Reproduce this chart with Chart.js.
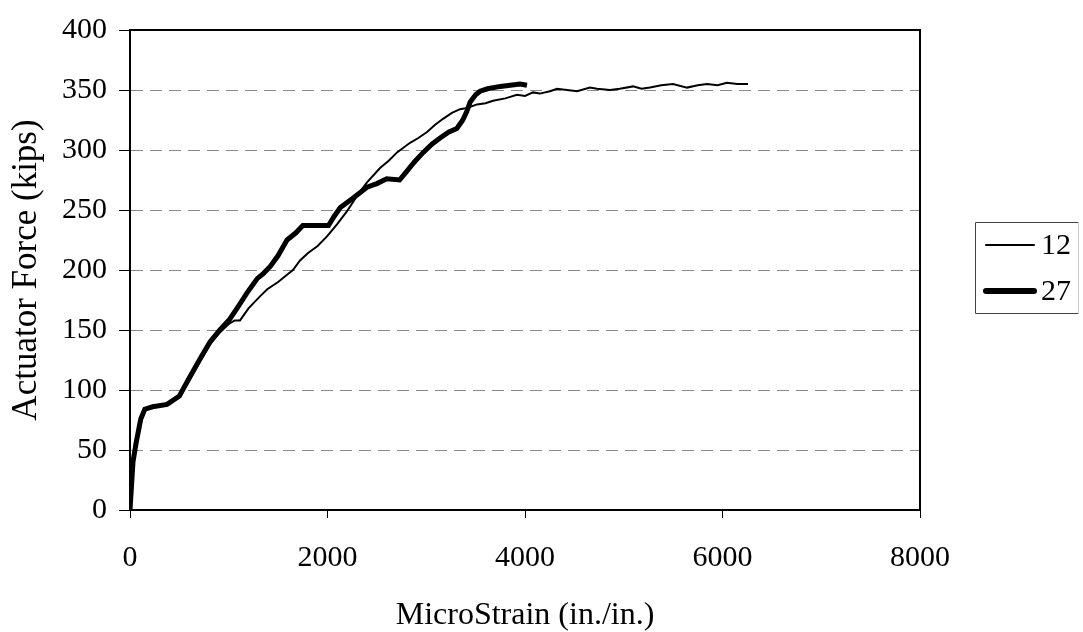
<!DOCTYPE html>
<html>
<head>
<meta charset="utf-8">
<script src="https://cdn.jsdelivr.net/npm/chart.js@4/dist/chart.umd.min.js"></script>
<style>
  html, body { margin: 0; padding: 0; background: #fff; }
  canvas { display: block; }
</style>
</head>
<body>
<canvas id="chart" width="1083" height="632"></canvas>
<script>
// gauge 12 (thin line)
const strain12 = [0, 30, 60, 100, 150, 230, 375, 500, 600, 710, 810, 910, 1000, 1060, 1114, 1200, 1316, 1390, 1500, 1590, 1650, 1722, 1800, 1900, 1995, 2096, 2198, 2300, 2400, 2532, 2620, 2704, 2836, 2920, 3008, 3090, 3170, 3260, 3342, 3413, 3514, 3600, 3676, 3800, 3919, 4000, 4081, 4150, 4253, 4324, 4425, 4527, 4658, 4729, 4861, 4960, 5094, 5180, 5266, 5380, 5499, 5641, 5750, 5843, 5950, 6045, 6150, 6258];
const force12 = [0, 38, 54, 71, 83, 86, 88, 94, 108, 124, 138, 148, 155, 158, 158, 168, 178, 184, 190, 196, 200, 208, 214, 220, 228, 238, 249, 262, 273, 285, 291, 298, 306, 310, 315, 321, 326, 331, 334, 335, 338, 339, 341, 343, 346, 345, 348, 347, 349, 351, 350, 349, 352, 351, 350, 351, 353, 351, 352, 354, 355, 352, 354, 355, 354, 356, 355, 355];

// gauge 27 (thick line)
const strain27 = [0, 30, 60, 100, 110, 150, 230, 375, 500, 600, 710, 810, 910, 1010, 1100, 1185, 1290, 1350, 1420, 1500, 1590, 1680, 1750, 1800, 2010, 2070, 2130, 2260, 2400, 2500, 2600, 2730, 2800, 2880, 2970, 3060, 3140, 3230, 3310, 3370, 3410, 3445, 3500, 3545, 3620, 3750, 3850, 3950, 4020];
const force27 = [0, 40, 55, 72, 76, 84, 86, 88, 95, 110, 126, 140, 150, 159, 170, 181, 193, 197, 203, 212, 225, 231, 237, 237, 237, 245, 252, 260, 269, 272, 276, 275, 282, 290, 298, 305, 310, 315, 318, 325, 332, 340, 346, 349, 351, 353, 354, 355, 354];

const seriesNames = ['12', '27'];
const serif = "'Liberation Serif', 'Times New Roman', serif";

const toPoints = (xs, ys) => xs.map((x, i) => ({ x: x, y: ys[i] }));

// box around the plot + the little legend on the right
const framePlugin = {
  id: 'frame',
  afterDraw(chart) {
    const ctx = chart.ctx;
    const a = chart.chartArea;
    ctx.save();
    ctx.strokeStyle = '#000';
    ctx.lineWidth = 2;
    ctx.strokeRect(a.left, a.top, a.right - a.left, a.bottom - a.top);

    // legend
    ctx.lineWidth = 1;
    ctx.strokeStyle = '#444';
    ctx.beginPath();
    ctx.moveTo(1078.5, 222.5);
    ctx.lineTo(975.5, 222.5);
    ctx.lineTo(975.5, 313.5);
    ctx.lineTo(1078.5, 313.5);
    ctx.stroke();
    ctx.strokeStyle = '#ccc';
    ctx.beginPath();
    ctx.moveTo(1078.5, 222.5);
    ctx.lineTo(1078.5, 313.5);
    ctx.stroke();

    ctx.font = '30px ' + serif;
    ctx.fillStyle = '#000';
    ctx.textBaseline = 'middle';
    chart.data.datasets.forEach((ds, i) => {
      const y = 245 + i * 46;
      ctx.strokeStyle = ds.borderColor;
      ctx.lineWidth = ds.borderWidth + (i ? 1 : 0);
      ctx.lineCap = 'round';
      ctx.beginPath();
      ctx.moveTo(986, y);
      ctx.lineTo(1034, y);
      ctx.stroke();
      ctx.fillText(ds.label, 1041, y + 1);
    });
    ctx.restore();
  }
};

new Chart(document.getElementById('chart'), {
  type: 'line',
  data: {
    datasets: [
      {
        label: seriesNames[0],
        data: toPoints(strain12, force12),
        borderColor: '#000',
        borderWidth: 2,
        pointRadius: 0,
        tension: 0,
        fill: false
      },
      {
        label: seriesNames[1],
        data: toPoints(strain27, force27),
        borderColor: '#000',
        borderWidth: 5,
        pointRadius: 0,
        tension: 0,
        fill: false
      }
    ]
  },
  options: {
    responsive: false,
    animation: false,
    layout: { padding: { left: 0, right: 163, top: 23, bottom: 0 } },
    plugins: {
      legend: { display: false },
      tooltip: { enabled: false }
    },
    scales: {
      x: {
        type: 'linear',
        min: 0,
        max: 8000,
        afterFit: s => { s.height = 122; },
        ticks: {
          stepSize: 2000,
          color: '#000',
          padding: 22,
          maxRotation: 0,
          callback: v => String(v),
          font: { family: serif, size: 30 }
        },
        grid: {
          drawOnChartArea: false,
          tickLength: 8,
          tickColor: '#000',
          tickWidth: 1
        },
        border: { color: '#000', width: 2 },
        title: {
          display: true,
          text: 'MicroStrain (in./in.)',
          color: '#000',
          padding: { top: 0, bottom: 0 },
          font: { family: serif, size: 32, weight: 'normal', lineHeight: 1 }
        }
      },
      y: {
        min: 0,
        max: 400,
        afterFit: s => { s.width = 130; },
        ticks: {
          stepSize: 50,
          color: '#000',
          padding: 12,
          callback: v => String(v),
          font: { family: serif, size: 30 }
        },
        grid: {
          color: '#8a8a8a',
          lineWidth: 1,
          tickLength: 11,
          tickColor: '#000',
          tickWidth: 1,
          tickBorderDash: []
        },
        border: { color: '#000', width: 2, dash: [12, 7] },
        title: {
          display: true,
          text: 'Actuator Force (kips)',
          color: '#000',
          padding: { top: 6, bottom: 0 },
          font: { family: serif, size: 35, weight: 'normal' }
        }
      }
    }
  },
  plugins: [framePlugin]
});
</script>
</body>
</html>
